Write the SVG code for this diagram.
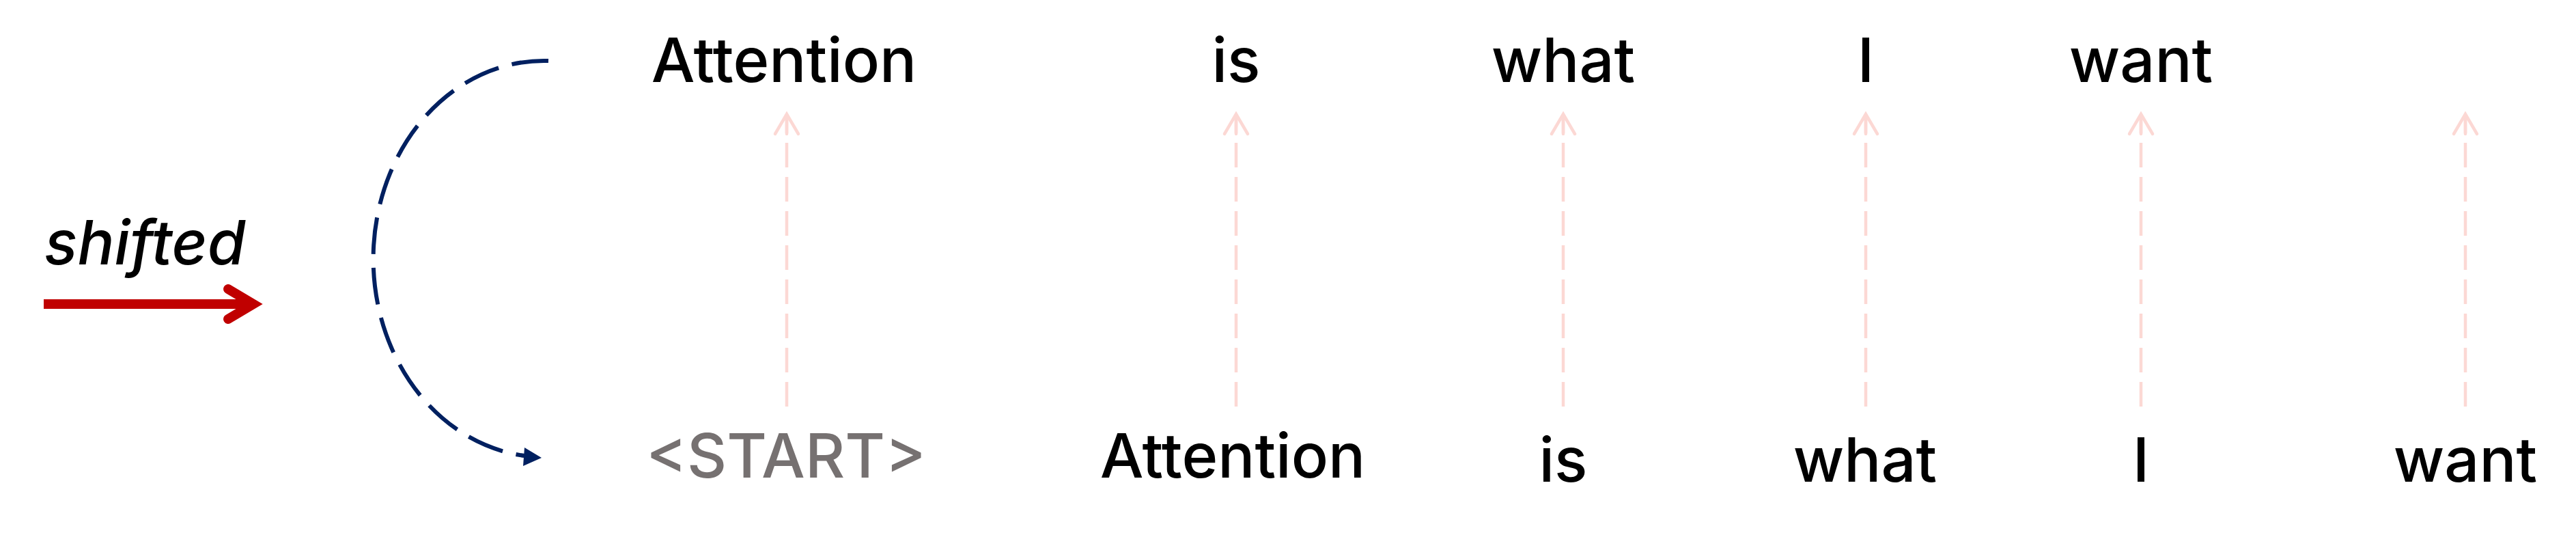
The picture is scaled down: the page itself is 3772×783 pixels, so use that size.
<svg xmlns="http://www.w3.org/2000/svg" width="3772" height="783" viewBox="0 0 3772 783">
<style>
  .tok { font-family: Inter, "Liberation Sans", sans-serif; font-size: 90px; font-weight: 500; fill: #000000; text-anchor: middle; }
  .start { fill: #767171; }
  .label { font-family: Inter, "Liberation Sans", sans-serif; font-size: 90px; font-weight: 500; font-style: italic; fill: #000000; }
  .pink { fill: none; stroke: #FCD8D4; stroke-width: 4.5; stroke-dasharray: 36 14; }
  .pinkhead { fill: none; stroke: #FCD8D4; stroke-width: 4.5; stroke-linecap: round; stroke-linejoin: miter; stroke-miterlimit: 10; }
  .shift { fill: none; stroke: #002060; stroke-width: 6; stroke-dasharray: 54 20; }
  .red { fill: none; stroke: #C00000; stroke-width: 14; }
</style>
<defs>
  <marker id="ph" markerUnits="userSpaceOnUse" viewBox="-40 -25 50 50" refX="0" refY="0" markerWidth="50" markerHeight="50" orient="auto" overflow="visible">
    <path class="pinkhead" d="M -29 -17 L 0 0 L -29 17 M -29 0 L 0 0"/>
  </marker>
</defs>

<g id="shifted-label">
  <text class="label" x="65" y="387">shifted</text>
</g>

<g id="connectors">
  <g id="red-arrow">
    <line class="red" x1="64" y1="445" x2="372" y2="445"/>
    <polyline class="red" points="334,423 371,445 334,467" stroke-linecap="round" stroke-linejoin="miter" stroke-miterlimit="10"/>
  </g>
  <g id="shift-arc">
    <path class="shift" d="M 803 89 A 250 290 0 0 0 768 667"/>
    <polygon points="793,670 768,655 766,682" fill="#002060"/>
  </g>
  <path class="pink" d="M 1152 595 L 1152 167" marker-end="url(#ph)"/>
  <path class="pink" d="M 1810 595 L 1810 167" marker-end="url(#ph)"/>
  <path class="pink" d="M 2289 595 L 2289 167" marker-end="url(#ph)"/>
  <path class="pink" d="M 2732 595 L 2732 167" marker-end="url(#ph)"/>
  <path class="pink" d="M 3135 595 L 3135 167" marker-end="url(#ph)"/>
  <path class="pink" d="M 3610 595 L 3610 167" marker-end="url(#ph)"/>
</g>

<g id="out-attention"><text class="tok" x="1148" y="120">Attention</text></g>
<g id="out-is"><text class="tok" x="1810" y="120">is</text></g>
<g id="out-what"><text class="tok" x="2289" y="120">what</text></g>
<g id="out-i"><text class="tok" x="2732" y="120">I</text></g>
<g id="out-want"><text class="tok" x="3135" y="120">want</text></g>

<g id="in-start"><text class="tok start" x="1151" y="699">&lt;START&gt;</text></g>
<g id="in-attention"><text class="tok" x="1805" y="699">Attention</text></g>
<g id="in-is"><text class="tok" x="2289" y="705">is</text></g>
<g id="in-what"><text class="tok" x="2731" y="705">what</text></g>
<g id="in-i"><text class="tok" x="3135" y="705">I</text></g>
<g id="in-want"><text class="tok" x="3610" y="705">want</text></g>
</svg>
